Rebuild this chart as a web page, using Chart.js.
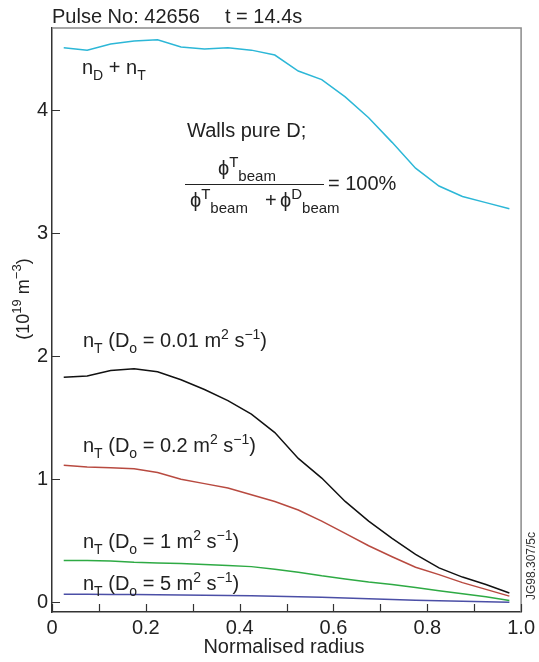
<!DOCTYPE html>
<html>
<head>
<meta charset="utf-8">
<script src="https://cdn.jsdelivr.net/npm/chart.js@4.4.0/dist/chart.umd.min.js"></script>
<style>
  html, body { margin: 0; padding: 0; background: #fff; }
  #wrap { width: 539px; height: 662px; position: relative; }
</style>
</head>
<body>
<div id="wrap"><canvas id="profileChart" width="539" height="662"></canvas></div>
<script>
const radius = [0.025, 0.075, 0.125, 0.175, 0.225, 0.275, 0.325, 0.375, 0.425, 0.475,
                0.525, 0.575, 0.625, 0.675, 0.725, 0.775, 0.825, 0.875, 0.925, 0.975];

const nDplusT = [4.51, 4.49, 4.54, 4.565, 4.575, 4.515, 4.50, 4.51, 4.49, 4.45,
                 4.32, 4.25, 4.11, 3.94, 3.74, 3.53, 3.385, 3.30, 3.25, 3.20];

const nT_001 = [1.83, 1.84, 1.885, 1.90, 1.875, 1.81, 1.73, 1.64, 1.53, 1.38,
                1.17, 1.01, 0.82, 0.66, 0.52, 0.39, 0.28, 0.205, 0.145, 0.075];

const nT_02 = [1.115, 1.10, 1.095, 1.085, 1.055, 1.00, 0.965, 0.93, 0.875, 0.82,
               0.75, 0.66, 0.56, 0.46, 0.37, 0.285, 0.225, 0.16, 0.105, 0.05];

const nT_1 = [0.34, 0.34, 0.335, 0.325, 0.32, 0.315, 0.307, 0.30, 0.29, 0.268,
              0.245, 0.215, 0.19, 0.165, 0.145, 0.12, 0.093, 0.07, 0.045, 0.015];

const nT_5 = [0.065, 0.065, 0.064, 0.063, 0.062, 0.06, 0.058, 0.056, 0.054, 0.05,
              0.046, 0.041, 0.035, 0.029, 0.023, 0.017, 0.012, 0.008, 0.004, 0.001];

const xTickValues = [0, 0.1, 0.2, 0.3, 0.4, 0.5, 0.6, 0.7, 0.8, 0.9, 1.0];
const xTickLabels = ["0", "", "0.2", "", "0.4", "", "0.6", "", "0.8", "", "1.0"];
const yTickValues = [0, 1, 2, 3, 4];
const yTickLabels = ["0", "1", "2", "3", "4"];

const FONT = '"Liberation Sans", Arial, Helvetica, sans-serif';

function pts(values) {
    return values.map((y, i) => ({ x: radius[i], y }));
}

// draws text made of normal / sub / sup parts, returns width
function drawRich(ctx, x, y, parts, size, measureOnly, opt) {
    const o = opt || {};
    const small = o.small || Math.round(size * 0.7);
    const subDy = o.subDy !== undefined ? o.subDy : size * 0.3;
    const supDy = o.supDy !== undefined ? o.supDy : -size * 0.42;
    let cx = x;
    parts.forEach(p => {
        const mode = p[1] || "n";
        const fs = mode === "n" ? size : small;
        ctx.font = fs + "px " + FONT;
        let dy = 0;
        if (mode === "sub") dy = subDy;
        if (mode === "sup") dy = supDy;
        if (!measureOnly) ctx.fillText(p[0], cx, y + dy);
        cx += ctx.measureText(p[0]).width;
    });
    return cx - x;
}

const annotations = {
    id: "annotations",
    afterDraw(chart) {
        const ctx = chart.ctx;
        const a = chart.chartArea;
        const xs = chart.scales.x;
        const ys = chart.scales.y;

        ctx.save();

        // top and right frame
        ctx.strokeStyle = "#8a8a8a";
        ctx.lineWidth = 1.5;
        ctx.beginPath();
        ctx.moveTo(a.left, a.top);
        ctx.lineTo(a.right, a.top);
        ctx.lineTo(a.right, a.bottom);
        ctx.stroke();

        // inward tick marks
        ctx.strokeStyle = "#333";
        ctx.lineWidth = 1.2;
        ctx.beginPath();
        xTickValues.forEach(v => {
            const px = Math.round(xs.getPixelForValue(v)) + 0.5;
            ctx.moveTo(px, a.bottom);
            ctx.lineTo(px, a.bottom - 8);
        });
        yTickValues.forEach(v => {
            const py = Math.round(ys.getPixelForValue(v)) + 0.5;
            ctx.moveTo(a.left, py);
            ctx.lineTo(a.left + 8, py);
        });
        ctx.stroke();

        ctx.fillStyle = "#222";
        ctx.textBaseline = "alphabetic";
        ctx.textAlign = "left";
        const S = 20;

        // title
        drawRich(ctx, 52, 23, [["Pulse No: 42656"]], S);
        drawRich(ctx, 225, 23, [["t = 14.4s"]], S);

        // curve labels
        drawRich(ctx, 82, 74, [["n"], ["D", "sub"], [" + n"], ["T", "sub"]], S);
        const dLabel = d => [["n"], ["T", "sub"], [" (D"], ["o", "sub"], [" = " + d + " m"], ["2", "sup"], [" s"], ["\u22121", "sup"], [")"]];
        drawRich(ctx, 83, 347, dLabel("0.01"), S);
        drawRich(ctx, 83, 452, dLabel("0.2"), S);
        drawRich(ctx, 83, 548, dLabel("1"), S);
        drawRich(ctx, 83, 590, dLabel("5"), S);

        // walls text and fraction
        drawRich(ctx, 187, 137, [["Walls pure D;"]], S);
        const fr = { small: 15, subDy: 6, supDy: -8 };
        drawRich(ctx, 218, 175, [["\u03D5"], ["T", "sup"], ["beam", "sub"]], S, false, fr);
        drawRich(ctx, 190, 207, [["\u03D5"], ["T", "sup"], ["beam", "sub"]], S, false, fr);
        drawRich(ctx, 265, 207, [["+"]], S);
        drawRich(ctx, 280, 207, [["\u03D5"], ["D", "sup"], ["beam", "sub"]], S, false, fr);
        ctx.strokeStyle = "#222";
        ctx.lineWidth = 1;
        ctx.beginPath();
        ctx.moveTo(185, 184.5);
        ctx.lineTo(324, 184.5);
        ctx.stroke();
        drawRich(ctx, 328, 190, [["= 100%"]], S);

        // y axis title (rotated)
        ctx.save();
        ctx.translate(29, 299);
        ctx.rotate(-Math.PI / 2);
        const yt = [["(10"], ["19", "sup"], [" m"], ["\u22123", "sup"], [")"]];
        const w = drawRich(ctx, 0, 0, yt, 18, true);
        drawRich(ctx, -w / 2, 0, yt, 18);
        ctx.restore();

        // x axis title
        ctx.font = S + "px " + FONT;
        ctx.textAlign = "center";
        ctx.fillText("Normalised radius", 284, 653);

        // figure reference
        ctx.save();
        ctx.translate(535, 566);
        ctx.rotate(-Math.PI / 2);
        ctx.font = "12px " + FONT;
        ctx.fillStyle = "#333";
        ctx.textAlign = "center";
        ctx.fillText("JG98.307/5c", 0, 0);
        ctx.restore();

        ctx.restore();
    }
};

const ctx = document.getElementById("profileChart").getContext("2d");

new Chart(ctx, {

    type: "line",

    data: {
        datasets: [
            { label: "nD + nT", data: pts(nDplusT), borderColor: "#2cb7d7" },
            { label: "nT D0=0.01", data: pts(nT_001), borderColor: "#111111" },
            { label: "nT D0=0.2", data: pts(nT_02), borderColor: "#b84a40" },
            { label: "nT D0=1", data: pts(nT_1), borderColor: "#2eaa44" },
            { label: "nT D0=5", data: pts(nT_5), borderColor: "#4b4fa6" }
        ]
    },

    options: {
        responsive: false,
        animation: false,
        layout: {
            padding: { top: 28, right: 17, left: 0, bottom: 0 }
        },
        elements: {
            line: { borderWidth: 1.5, tension: 0, fill: false },
            point: { radius: 0 }
        },
        plugins: {
            legend: { display: false },
            tooltip: { enabled: false }
        },
        scales: {
            x: {
                type: "linear",
                min: 0,
                max: 1,
                afterBuildTicks: s => { s.ticks = xTickValues.map(v => ({ value: v })); },
                afterFit: s => { s.height = 50; },
                grid: { display: true, drawOnChartArea: false, drawTicks: false },
                border: { display: true, color: "#333", width: 1.5 },
                ticks: {
                    padding: 4,
                    maxRotation: 0,
                    autoSkip: false,
                    color: "#222",
                    font: { family: FONT, size: 20 },
                    callback: (v, i) => xTickLabels[i]
                }
            },
            y: {
                min: -0.079,
                max: 4.67,
                afterBuildTicks: s => { s.ticks = yTickValues.map(v => ({ value: v })); },
                afterFit: s => { s.width = 52; },
                grid: { display: true, drawOnChartArea: false, drawTicks: false },
                border: { display: true, color: "#333", width: 1.5 },
                ticks: {
                    padding: 4,
                    color: "#222",
                    font: { family: FONT, size: 20 },
                    callback: (v, i) => yTickLabels[i]
                }
            }
        }
    },

    plugins: [annotations]

});
</script>
</body>
</html>
